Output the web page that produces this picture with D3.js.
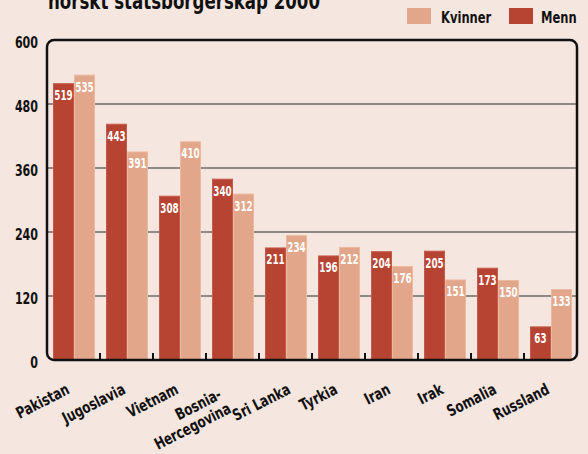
<!DOCTYPE html>
<html>
<head>
<meta charset="utf-8">
<script src="https://cdn.jsdelivr.net/npm/d3@7"></script>
<style>
  body { margin: 0; background: #f5e6df; }
  svg { display: block; }
  text { font-family: "DejaVu Sans Condensed", "DejaVu Sans", sans-serif; font-weight: bold; }
</style>
</head>
<body>
<svg id="chart" width="588" height="454"></svg>
<script>
var countries = ["Pakistan", "Jugoslavia", "Vietnam", "Bosnia-Hercegovina", "Sri Lanka", "Tyrkia", "Iran", "Irak", "Somalia", "Russland"];
var menn = [519, 443, 308, 340, 211, 196, 204, 205, 173, 63];
var kvinner = [535, 391, 410, 312, 234, 212, 176, 151, 150, 133];
var yTicks = [0, 120, 240, 360, 480, 600];
var seriesNames = ["Menn", "Kvinner"];

var colors = {Menn: "#b74333", Kvinner: "#e2a68a"};
var strokes = {Menn: "#c65a4a", Kvinner: "#ebb8a0"};
// small hand nudges of the slanted labels, as in the original
var labelShift = {"Pakistan": -3, "Sri Lanka": 6};

var svg = d3.select("#chart"),
    margin = {top: 40, right: 11, bottom: 94, left: 47},
    width = +svg.attr("width") - margin.left - margin.right,
    height = +svg.attr("height") - margin.top - margin.bottom;

// squeeze text horizontally to imitate a condensed face
function squeeze(sel, f) {
    sel.each(function() {
        var w = this.getComputedTextLength();
        d3.select(this).attr("textLength", w * f).attr("lengthAdjust", "spacingAndGlyphs");
    });
}

var data = countries.map(function(c, i) {
    return {name: c, Menn: menn[i], Kvinner: kvinner[i]};
});

var x = d3.scaleBand().domain(countries).range([0, width]);
var xs = d3.scaleBand().domain(seriesNames).range([6, 48]);
var y = d3.scaleLinear().domain([0, 600]).range([height, 0]);

var g = svg.append("g")
    .attr("transform", "translate(" + margin.left + "," + margin.top + ")");

// title, cut off at the top
svg.append("text")
    .attr("x", 48).attr("y", 9)
    .attr("font-size", 23)
    .attr("textLength", 272)
    .attr("lengthAdjust", "spacingAndGlyphs")
    .attr("fill", "#111")
    .text("norskt statsborgerskap 2000");

// legend
var legend = svg.append("g");
[["Kvinner", 407, 441], ["Menn", 509, 541]].forEach(function(l) {
    legend.append("rect").attr("x", l[1]).attr("y", 8).attr("width", 24).attr("height", 16)
        .attr("fill", colors[l[0]]);
    legend.append("text").attr("x", l[2]).attr("y", 23)
        .attr("font-size", 16).attr("fill", "#111").text(l[0]);
});
squeeze(legend.selectAll("text"), 0.8);

// gridlines
g.selectAll(".grid")
    .data(yTicks.filter(function(d) { return d > 0 && d < 600; }))
    .enter().append("line")
    .attr("x1", 0).attr("x2", width)
    .attr("y1", function(d) { return y(d); })
    .attr("y2", function(d) { return y(d); })
    .attr("stroke", "#2a2a2a").attr("stroke-width", 1.2);

// y labels
var ylabs = g.selectAll(".ylab")
    .data(yTicks)
    .enter().append("text")
    .attr("x", -9)
    .attr("y", function(d) { return y(d) + 8; })
    .attr("text-anchor", "end")
    .attr("font-size", 15)
    .attr("fill", "#111")
    .text(function(d) { return d; });
squeeze(ylabs, 0.82);

// bars
var groups = g.selectAll(".grp")
    .data(data)
    .enter().append("g")
    .attr("transform", function(d) { return "translate(" + x(d.name) + ",0)"; });

seriesNames.forEach(function(s) {
    groups.append("rect")
        .attr("x", xs(s) + 0.5)
        .attr("width", xs.bandwidth() - 1)
        .attr("y", function(d) { return y(d[s]) + 0.5; })
        .attr("height", function(d) { return height - y(d[s]) - 0.5; })
        .attr("fill", colors[s])
        .attr("stroke", strokes[s]).attr("stroke-width", 1);

    var vl = groups.append("text")
        .attr("x", xs(s) + xs.bandwidth() / 2)
        .attr("y", function(d) { return y(d[s]) + 17; })
        .attr("text-anchor", "middle")
        .attr("font-size", 14)
        .attr("fill", "#fff")
        .text(function(d) { return d[s]; });
    squeeze(vl, 0.7);
});

// bottom ticks between groups
g.selectAll(".tick")
    .data(countries.slice(1))
    .enter().append("line")
    .attr("x1", function(d) { return x(d); })
    .attr("x2", function(d) { return x(d); })
    .attr("y1", height).attr("y2", height - 7)
    .attr("stroke", "#111").attr("stroke-width", 2);

// frame with rounded corners
g.append("rect")
    .attr("x", 0).attr("y", 0)
    .attr("width", width).attr("height", height)
    .attr("rx", 7).attr("ry", 7)
    .attr("fill", "none")
    .attr("stroke", "#111").attr("stroke-width", 2.5);

// category labels
var labs = g.selectAll(".xlab")
    .data(countries)
    .enter().append("text")
    .attr("transform", function(d) {
        var dx = labelShift[d] || 0;
        return "translate(" + (x(d) + x.bandwidth() / 2 + dx) + "," + (height + 33) + ") rotate(-27)";
    })
    .attr("text-anchor", "end")
    .attr("font-size", 16)
    .attr("fill", "#111");

labs.each(function(d) {
    var t = d3.select(this);
    if (d === "Bosnia-Hercegovina") {
        t.append("tspan").attr("x", -11).attr("y", 0).text("Bosnia-");
        t.append("tspan").attr("x", -9).attr("y", 17).text("Hercegovina");
    } else {
        t.text(d);
    }
});
labs.filter(function(d) { return d !== "Bosnia-Hercegovina"; }).call(squeeze, 0.82);
labs.filter(function(d) { return d === "Bosnia-Hercegovina"; }).selectAll("tspan").call(squeeze, 0.82);
</script>
</body>
</html>
